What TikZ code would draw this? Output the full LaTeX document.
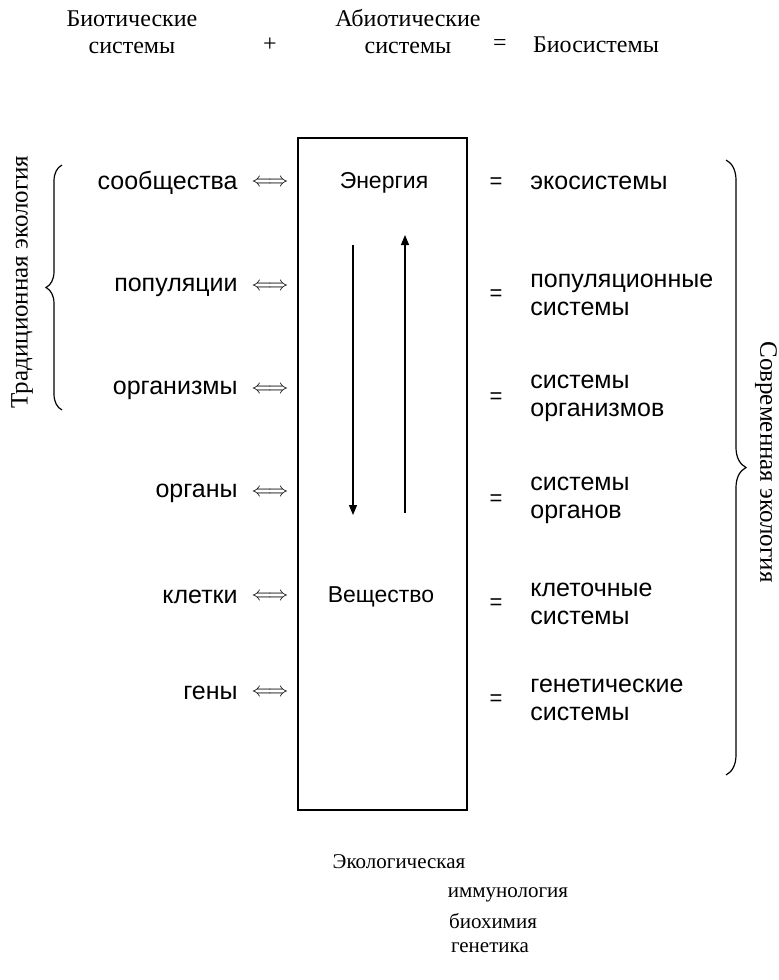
\documentclass[tikz,border=0pt]{standalone}
\usepackage{fontspec}
\setmainfont{Liberation Serif}
\newfontfamily\labelfont{Liberation Sans}
\usepackage{tikz}
\usetikzlibrary{positioning, arrows.meta, decorations.pathreplacing}

\begin{document}
\begin{tikzpicture}[x=0.5pt, y=-0.5pt,
    head/.style={align=center, font=\fontsize{12}{13.5}\selectfont},
    level/.style={anchor=east, inner sep=0pt, font=\labelfont\fontsize{12.5}{14}\selectfont},
    system/.style={anchor=west, align=left, inner sep=0pt, font=\labelfont\fontsize{12.5}{14}\selectfont},
    link/.style={inner sep=0pt, font=\fontsize{10}{12}\selectfont},
    flow/.style={line width=0.6pt, -{Triangle[length=5pt, width=4pt]}},
    bracket/.style={decorate, decoration={brace, amplitude=#1}, line width=0.6pt},
    science/.style={font=\fontsize{10.5}{13}\selectfont}
]
\useasboundingbox (0,0) rectangle (778,980);

% heading: biotic + abiotic = biosystems
\node[head] (biotic) at (132,32) {Биотические\\системы};
\node[head] (plus) at (270,45) {+};
\node[head] (abiotic) at (408,32) {Абиотические\\системы};
\node[head] (equals) at (500,45) {=};
\node[head, anchor=west] (biosys) at (526,45) {Биосистемы};

% the abiotic medium
\draw[line width=0.8pt] (298,138) rectangle (467,810);
\node[link, font=\labelfont\fontsize{11.5}{13}\selectfont] (energy) at (384,183) {Энергия};
\node[link, font=\labelfont\fontsize{11.5}{13}\selectfont] (matter) at (381,597) {Вещество};
\coordinate (down1) at (353,245);
\coordinate (down2) at (353,515);
\coordinate (up1) at (405,513);
\coordinate (up2) at (405,235);
\draw[flow] (down1) -- (down2);
\draw[flow] (up1) -- (up2);

% levels of organisation and their systems
\foreach \lvl/\sys/\ly/\sy [count=\i] in {
    сообщества/экосистемы/183/183,
    популяции/{популяционные\\системы}/287/295,
    организмы/{системы\\организмов}/390/398,
    органы/{системы\\органов}/493/500,
    клетки/{клеточные\\системы}/597/604,
    гены/{генетические\\системы}/693/700} {
  \node[level] (lvl\i) at (238,\ly) {\lvl};
  \node[link] (arr\i) at (270,\ly) {$\Longleftrightarrow$};
  \node[link, font=\labelfont\fontsize{11}{13}\selectfont] (eq\i) at (496,\sy) {=};
  \node[system] (sys\i) at (530,\sy) {\sys};
}

% braces with the two ecologies
\coordinate (tradlow) at (62,410);
\coordinate (tradtop) at (62,165);
\draw[bracket=8pt] (tradlow) -- (tradtop);
\node[head, rotate=90] (trad) at (22,282) {\fontsize{12.5}{14}\selectfont Традиционная экология};

\coordinate (modtop) at (726,160);
\coordinate (modlow) at (726,775);
\draw[bracket=10pt] (modtop) -- (modlow);
\node[head, rotate=-90] (modern) at (766,462) {\fontsize{12.5}{14}\selectfont Современная экология};

% related sciences
\node[science] (ecol) at (399,862) {Экологическая};
\node[science] (immun) at (508,895) {иммунология};
\node[science] (biochem) at (493,921) {биохимия};
\node[science] (genet) at (490,948) {генетика};
\end{tikzpicture}
\end{document}
